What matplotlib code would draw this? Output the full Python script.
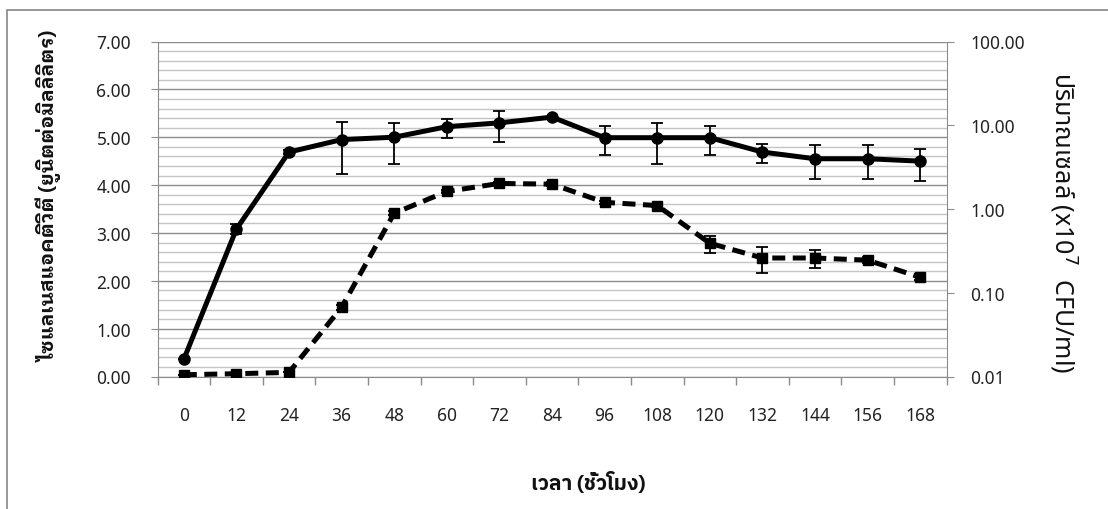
import numpy as np
import matplotlib
matplotlib.use('Agg')
import matplotlib.pyplot as plt
from matplotlib.patches import Rectangle

plt.rcParams['font.family'] = ['Noto Sans', 'Noto Sans Thai Looped', 'DejaVu Sans']

# data
hours = [0, 12, 24, 36, 48, 60, 72, 84, 96, 108, 120, 132, 144, 156, 168]
activity = [0.36, 3.08, 4.69, 4.95, 5.00, 5.22, 5.30, 5.42, 4.99, 4.99, 4.99, 4.69, 4.55, 4.55, 4.50]
act_err_lo = [0.0, 0.10, 0.05, 0.72, 0.56, 0.24, 0.39, 0.0, 0.36, 0.55, 0.36, 0.23, 0.42, 0.42, 0.42]
act_err_hi = [0.0, 0.10, 0.05, 0.37, 0.30, 0.17, 0.24, 0.0, 0.24, 0.31, 0.24, 0.16, 0.29, 0.29, 0.26]
cells = [0.0105, 0.0108, 0.0112, 0.067, 0.89, 1.62, 2.02, 1.98, 1.20, 1.10, 0.39, 0.26, 0.26, 0.245, 0.153]
cell_err = [0.0, 0.0, 0.0, 0.004, 0.05, 0.08, 0.1, 0.1, 0.06, 0.05, 0.09, 0.09, 0.06, 0.02, 0.01]

W, H = 1108, 510
fig = plt.figure(figsize=(W / 100, H / 100), dpi=100)
fig.patches.append(Rectangle((7 / W, -0.1), 1.2, (H - 11) / H + 0.1, transform=fig.transFigure,
                             fill=False, edgecolor='#868686', lw=1.2))

ax = fig.add_axes([157.5 / W, 1 - 377.5 / H, (946.5 - 157.5) / W, (377.5 - 42.5) / H])
ax2 = ax.twinx()

# left axis: activity, linear
ax.set_ylim(0, 7)
ax.set_xlim(-6, 174)
ax.set_yticks(np.arange(0, 7.01, 1))
ax.set_yticks(np.arange(0, 7.01, 0.2), minor=True)
ax.set_yticklabels(['%.2f' % v for v in np.arange(0, 7.01, 1)])
ax.grid(True, which='major', axis='y', color='#8c8c8c', lw=1.0)
ax.grid(True, which='minor', axis='y', color='#c4c4c4', lw=1.0)
ax.set_axisbelow(True)
ax.set_xticks(hours)
ax.set_xticklabels([str(h) for h in hours])
ax.set_xticks(np.arange(-6, 175, 12), minor=True)
ax.tick_params(axis='x', which='major', length=0, pad=21, labelsize=12.5, labelcolor='#222222')
ax.tick_params(axis='x', which='minor', length=5.5, color='#8c8c8c', width=1.0)
ax.tick_params(axis='y', which='major', length=5, pad=14, color='#8c8c8c', labelsize=12.5, labelcolor='#222222')
ax.tick_params(axis='y', which='minor', length=0)
for s in ['top', 'right']:
    ax.spines[s].set_visible(False)
for s in ['left', 'bottom']:
    ax.spines[s].set_color('#8c8c8c')

ax.errorbar(hours, activity, yerr=[act_err_lo, act_err_hi], color='black', lw=3.6,
            marker='o', ms=8, ecolor='black', elinewidth=1.3, capsize=4, capthick=1.3, zorder=3)

# right axis: cell count, log
ax2.set_yscale('log')
ax2.set_ylim(0.01, 100)
ticks2 = [0.01, 0.1, 1, 10, 100]
ax2.set_yticks(ticks2)
ax2.set_yticklabels(['%.2f' % v for v in ticks2])
ax2.yaxis.set_minor_locator(matplotlib.ticker.NullLocator())
ax2.tick_params(axis='y', which='major', length=5, pad=12, color='#8c8c8c', labelsize=12.5, labelcolor='#222222')
for s in ['top', 'left', 'bottom']:
    ax2.spines[s].set_visible(False)
ax2.spines['right'].set_color('#8c8c8c')

ax2.errorbar(hours, cells, yerr=cell_err, color='black', lw=3.6, ls=(0, (2.6, 1.5)),
             marker='s', ms=7.5, ecolor='black', elinewidth=1.3, capsize=4, capthick=1.3, zorder=3)

looped = ['IBM Plex Sans Thai Looped', 'Noto Sans Thai Looped', 'DejaVu Sans']
plain = ['Noto Sans Thai', 'Noto Sans', 'DejaVu Sans']
fig.text(50 / W, 1 - 196 / H, 'ไซแลเนสแอคติวิตี (ยูนิตต่อมิลลิลิตร)', rotation=90, ha='center', va='center',
         fontsize=14.3, fontweight='bold', family=looped, color='#111111')
fig.text(1063 / W, 1 - 222 / H, 'ปริมาณเซลล์ (x10$^{7}$  CFU/ml)', rotation=-90, ha='center', va='center',
         fontsize=18, family=plain, color='#111111')
fig.text(588 / W, 1 - 483 / H, 'เวลา (ชั่วโมง)', ha='center', va='center',
         fontsize=15, fontweight='bold', family=['IBM Plex Sans Thai'] + plain, color='#111111')

fig.savefig('out.png', dpi=100)
